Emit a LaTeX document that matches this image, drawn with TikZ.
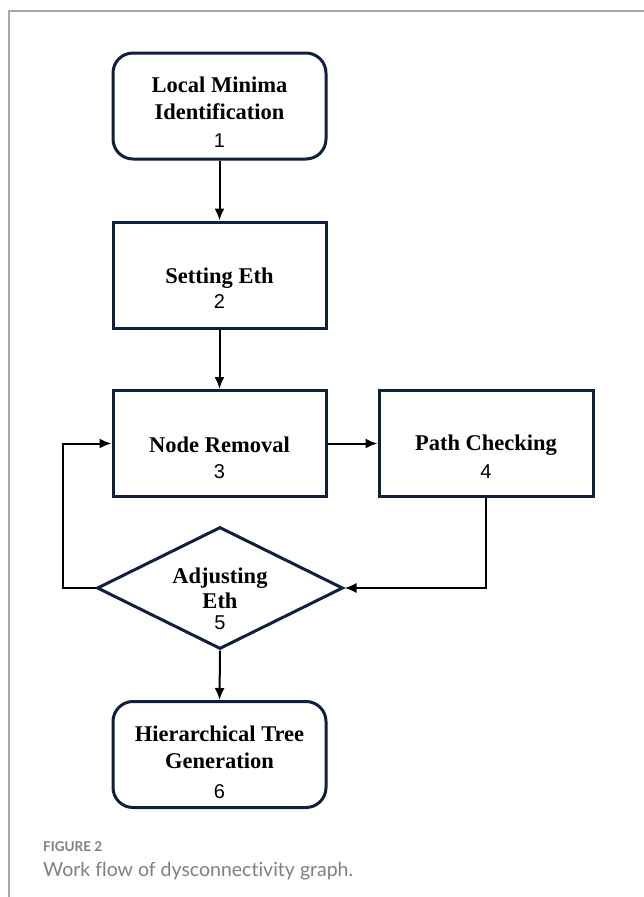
\documentclass[tikz,border=0pt]{standalone}
\usepackage{fontspec}
\setmainfont{Liberation Serif}
\newfontfamily\numfont{Liberation Sans}
\newfontfamily\capfont[Ligatures=NoCommon]{Lato}
\usetikzlibrary{arrows.meta,shapes.geometric}
\definecolor{navy}{HTML}{0F1F3D}
\definecolor{capgray}{HTML}{7F7F7F}
\definecolor{framegray}{HTML}{A8A8A8}
\tikzset{
  box/.style={draw=navy, line width=3pt, minimum width=213pt, minimum height=106pt, inner sep=0pt},
  rbox/.style={box, rounded corners=20pt},
  dia/.style={draw=navy, line width=3pt, diamond, minimum width=246pt, minimum height=122pt, inner sep=0pt},
  ttl/.style={font=\bfseries\fontsize{22.5}{27}\selectfont, align=center, inner sep=0pt},
  num/.style={font=\numfont\fontsize{20}{24}\selectfont, inner sep=0pt},
  conn/.style={line width=2pt, -{Latex[length=12pt,width=10pt]}},
  captext/.style={text=capgray, anchor=west, inner sep=0pt}
}
\begin{document}
\begin{tikzpicture}[x=1pt,y=-1pt]
\useasboundingbox (0,0) rectangle (644,897);
% frame
\draw[framegray, line width=1.2pt] (9,897) -- (9,11) -- (644,11);
% boxes
\node[rbox] (b1) at (219.5,106) {};
\node[box] (b2) at (219.5,275) {};
\node[box] (b3) at (219.5,443.5) {};
\node[box, minimum width=214pt] (b4) at (486,443.5) {};
\node[dia] (d5) at (220,588) {};
\node[rbox] (b6) at (219.5,754.5) {};
% texts
\node[ttl] (t1) at (219.5,98.5) {Local Minima\\Identification};
\node[num] (n1) at (219.5,141) {1};
\node[ttl] (t2) at (219.5,278) {Setting Eth};
\node[num] (n2) at (219.5,302) {2};
\node[ttl] (t3) at (219.5,445) {Node Removal};
\node[num] (n3) at (219.5,472) {3};
\node[ttl] (t4) at (486,445) {Path Checking};
\node[num] (n4) at (486,472) {4};
\node[ttl] (t5) at (220,588.5) {Adjusting\\[-2pt]Eth};
\node[num] (n5) at (220,623) {5};
\node[ttl] (t6) at (219.5,747) {Hierarchical Tree\\Generation};
\node[num] (n6) at (219.5,792) {6};
% connectors
\draw[conn] (b1.south) -- (b2.north);
\draw[conn] (b2.south) -- (b3.north);
\draw[conn] (b3.east) -- (b4.west);
\draw[conn] (b4.south) |- (d5.east);
\draw[conn] (d5.west) -- (63,588) |- (b3.west);
\draw[conn] (d5.south) -- (b6.north);
% caption
\node[captext, font=\capfont\bfseries\fontsize{13.5}{16}\selectfont] (cap1) at (43,847) {FIGURE 2};
\node[captext, font=\capfont\fontsize{19.5}{24}\selectfont] (cap2) at (43,871) {Work flow of dysconnectivity graph.};
\end{tikzpicture}
\end{document}
